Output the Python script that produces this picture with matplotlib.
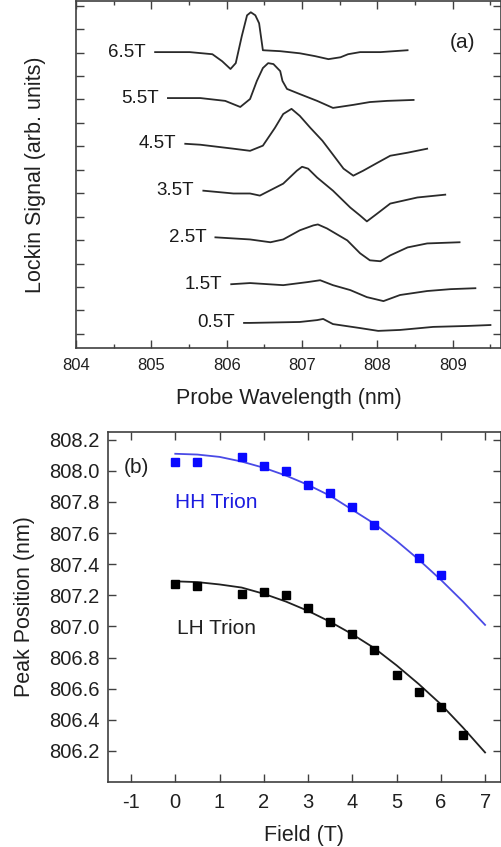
import numpy as np
import matplotlib
matplotlib.use("Agg")
import matplotlib.pyplot as plt
from matplotlib.ticker import MultipleLocator, NullFormatter

plt.rcParams['font.family'] = ['Liberation Sans', 'DejaVu Sans']
plt.rcParams['axes.unicode_minus'] = False

# ---- panel (a): lock-in traces (offset, arb. units) ----
wl_65 = [805.05, 805.51, 805.81, 805.94, 806.05, 806.12, 806.20, 806.27, 806.32, 806.38,
         806.43, 806.48, 806.71, 806.97, 807.17, 807.35, 807.51, 807.61, 807.77, 808.04, 808.40]
sig_65 = [12.02, 12.02, 11.93, 11.63, 11.30, 11.55, 12.70, 13.59, 13.72, 13.59,
          13.25, 12.10, 12.06, 11.97, 11.85, 11.72, 11.80, 11.93, 12.02, 12.02, 12.10]

wl_55 = [805.22, 805.65, 805.98, 806.18, 806.31, 806.40, 806.48, 806.55, 806.62, 806.71,
         806.74, 806.80, 806.97, 807.20, 807.41, 807.68, 807.90, 808.13, 808.48]
sig_55 = [10.06, 10.06, 9.94, 9.68, 10.02, 10.79, 11.34, 11.55, 11.51, 11.21,
          10.79, 10.45, 10.23, 9.94, 9.64, 9.77, 9.89, 9.94, 9.98]

wl_45 = [805.45, 805.65, 806.09, 806.31, 806.48, 806.64, 806.75, 806.86, 806.97, 807.11,
         807.27, 807.40, 807.55, 807.68, 807.81, 808.00, 808.17, 808.40, 808.66]
sig_45 = [8.11, 8.07, 7.90, 7.81, 8.03, 8.79, 9.38, 9.60, 9.30, 8.79,
          8.24, 7.69, 7.05, 6.75, 6.96, 7.30, 7.60, 7.73, 7.90]

wl_35 = [805.69, 806.09, 806.31, 806.44, 806.75, 806.93, 807.00, 807.08, 807.20, 807.41,
         807.64, 807.77, 807.86, 808.00, 808.17, 808.53, 808.90]
sig_35 = [6.11, 5.99, 5.99, 5.90, 6.41, 6.96, 7.13, 7.05, 6.67, 6.11,
          5.39, 5.05, 4.80, 5.14, 5.56, 5.82, 5.94]

wl_25 = [805.85, 806.31, 806.58, 806.75, 806.97, 807.15, 807.21, 807.33, 807.60, 807.77,
         807.90, 808.04, 808.17, 808.40, 808.66, 809.09]
sig_25 = [4.12, 4.03, 3.91, 4.03, 4.42, 4.63, 4.67, 4.50, 3.99, 3.44,
          3.14, 3.10, 3.35, 3.69, 3.86, 3.91]

wl_15 = [806.06, 806.31, 806.75, 807.07, 807.24, 807.41, 807.64, 807.86, 808.08, 808.30,
         808.66, 808.97, 809.30]
sig_15 = [2.12, 2.17, 2.08, 2.21, 2.29, 2.08, 1.87, 1.57, 1.40, 1.66,
          1.83, 1.91, 1.95]

wl_05 = [806.23, 806.31, 806.97, 807.20, 807.28, 807.41, 807.77, 808.01, 808.30, 808.74,
         809.19, 809.50]
sig_05 = [0.47, 0.47, 0.51, 0.59, 0.64, 0.42, 0.25, 0.13, 0.17, 0.30,
          0.34, 0.38]

trace_labels = ['6.5T', '5.5T', '4.5T', '3.5T', '2.5T', '1.5T', '0.5T']
traces = [(wl_65, sig_65), (wl_55, sig_55), (wl_45, sig_45), (wl_35, sig_35),
          (wl_25, sig_25), (wl_15, sig_15), (wl_05, sig_05)]

# ---- panel (b): peak positions vs field ----
hh_field = [0, 0.5, 1.5, 2, 2.5, 3, 3.5, 4, 4.5, 5.5, 6]
hh_peak = [808.06, 808.06, 808.09, 808.03, 808.00, 807.91, 807.86, 807.77, 807.65, 807.44, 807.33]

lh_field = [0, 0.5, 1.5, 2, 2.5, 3, 3.5, 4, 4.5, 5, 5.5, 6, 6.5]
lh_peak = [807.27, 807.26, 807.21, 807.22, 807.20, 807.12, 807.03, 806.95, 806.85, 806.69,
           806.58, 806.48, 806.30]

fit_field = [0, 0.5, 1, 1.5, 2, 2.5, 3, 3.5, 4, 4.5, 5, 5.5, 6, 6.5, 7]
hh_fit = [808.11, 808.105, 808.09, 808.06, 808.02, 807.97, 807.91, 807.84, 807.75, 807.66,
          807.55, 807.43, 807.30, 807.16, 807.01]
lh_fit = [807.29, 807.285, 807.27, 807.25, 807.21, 807.16, 807.10, 807.03, 806.95, 806.86,
          806.75, 806.63, 806.50, 806.35, 806.19]

spine_c = '#404040'
fig = plt.figure(figsize=(5.02, 8.47), dpi=100)

# panel (a)
ax1 = fig.add_axes([76/502, 1 - 348/847, 425/502, 347/847])
for (wl, sig), lab in zip(traces, trace_labels):
    ax1.plot(wl, sig, color='#2a2a2a', lw=1.3, solid_joinstyle='round')
    ax1.text(wl[0] - 0.12, sig[0], lab, ha='right', va='center', fontsize=13.5, color='#1a1a1a')
ax1.text(0.91, 0.88, '(a)', transform=ax1.transAxes, fontsize=15, ha='center', va='center',
         color='#202020')
ax1.set_xlim(804, 809.64)
ax1.set_ylim(-0.6, 14.2)
ax1.xaxis.set_major_locator(MultipleLocator(1))
ax1.xaxis.set_minor_locator(MultipleLocator(0.5))
ax1.yaxis.set_major_locator(MultipleLocator(1))
ax1.yaxis.set_major_formatter(NullFormatter())
ax1.tick_params(axis='both', which='both', direction='in', top=True, right=True,
                color=spine_c, width=1.0)
ax1.tick_params(axis='x', which='major', length=6, labelsize=12, pad=7, labelcolor='#202020')
ax1.tick_params(axis='x', which='minor', length=3)
ax1.tick_params(axis='y', which='major', length=6)
ax1.set_xlabel('Probe Wavelength (nm)', fontsize=15.5, labelpad=11, color='#202020')
ax1.set_ylabel('Lockin Signal (arb. units)', fontsize=15.5, labelpad=18, color='#202020')
for s in ax1.spines.values():
    s.set_color(spine_c)
    s.set_linewidth(1.2)

# panel (b)
ax2 = fig.add_axes([108/502, 1 - 782/847, 393/502, 350/847])
ax2.plot(fit_field, hh_fit, color='#4a4ae6', lw=1.3)
ax2.plot(fit_field, lh_fit, color='#202020', lw=1.3)
ax2.plot(hh_field, hh_peak, 's', color='#0a0aff', ms=5.5, mec='#0a0aff')
ax2.plot(lh_field, lh_peak, 's', color='black', ms=5.5)
ax2.text(-0.88, 808.02, '(b)', fontsize=15, ha='center', va='center', color='#202020')
ax2.text(0.0, 807.8, 'HH Trion', fontsize=15, ha='left', va='center', color='#1c1ce0')
ax2.text(0.03, 806.99, 'LH Trion', fontsize=15, ha='left', va='center', color='#202020')
ax2.set_xlim(-1.52, 7.36)
ax2.set_ylim(806.0, 808.25)
ax2.set_xticks(range(-1, 8))
ax2.set_yticks(np.arange(806.2, 808.21, 0.2))
ax2.yaxis.set_major_formatter(plt.FormatStrFormatter('%.1f'))
ax2.tick_params(axis='both', which='both', direction='in', top=True, right=True,
                color=spine_c, width=1.0, length=6, labelsize=14.5, labelcolor='#202020')
ax2.tick_params(axis='x', pad=8)
ax2.tick_params(axis='y', pad=6)
ax2.set_xlabel('Field (T)', fontsize=15.5, labelpad=9, color='#202020')
ax2.set_ylabel('Peak Position (nm)', fontsize=15.5, labelpad=10, color='#202020')
for s in ax2.spines.values():
    s.set_color(spine_c)
    s.set_linewidth(1.2)

fig.savefig('out.png', dpi=100)
